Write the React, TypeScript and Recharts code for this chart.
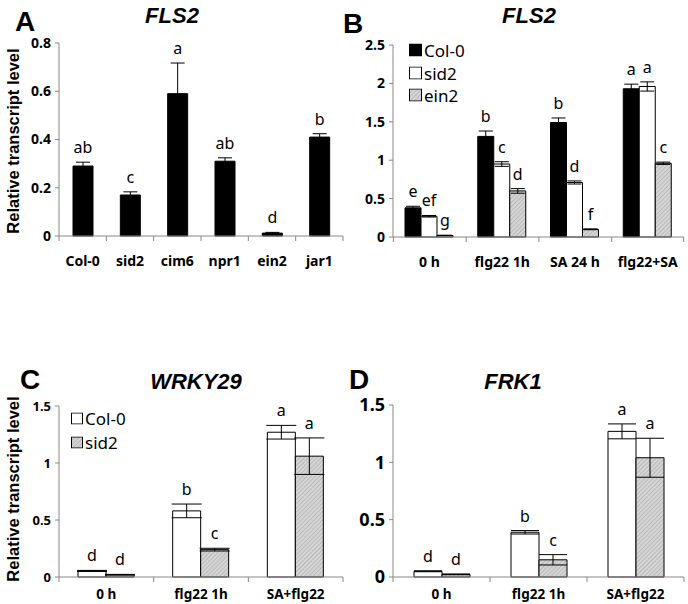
import React from 'react';
import { BarChart, Bar, XAxis, YAxis, ErrorBar, LabelList } from 'recharts';

// panel A - FLS2 in mutants
const mutants = ['Col-0', 'sid2', 'cim6', 'npr1', 'ein2', 'jar1'];
const flsA = [0.29, 0.17, 0.59, 0.31, 0.012, 0.41];
const flsAErr = [0.016, 0.013, 0.127, 0.014, 0.003, 0.014];
const flsALetters = ['ab', 'c', 'a', 'ab', 'd', 'b'];
const ticksA = [0, 0.2, 0.4, 0.6, 0.8];

// panel B - FLS2 treatments
const treatB = ['0 h', 'flg22  1h', 'SA  24 h', 'flg22+SA'];
const col0B = [0.38, 1.31, 1.49, 1.93];
const col0BErr = [0.02, 0.07, 0.06, 0.06];
const col0BLetters = ['e', 'b', 'b', 'a'];
const sid2B = [0.27, 0.95, 0.71, 1.96];
const sid2BErr = [0.01, 0.03, 0.02, 0.06];
const sid2BLetters = ['ef', 'c', 'd', 'a'];
const ein2B = [0.02, 0.6, 0.1, 0.96];
const ein2BErr = [0.003, 0.03, 0.005, 0.015];
const ein2BLetters = ['g', 'd', 'f', 'c'];
const ticksB = [0, 0.5, 1, 1.5, 2, 2.5];

// panels C, D
const treatCD = ['0 h', 'flg22 1h', 'SA+flg22'];
const col0C = [0.053, 0.58, 1.27];
const col0CErr = [0.005, 0.06, 0.06];
const sid2C = [0.02, 0.24, 1.06];
const sid2CErr = [0.003, 0.012, 0.16];
const col0D = [0.05, 0.39, 1.27];
const col0DErr = [0.004, 0.015, 0.065];
const sid2D = [0.023, 0.15, 1.04];
const sid2DErr = [0.003, 0.045, 0.17];
const col0CDLetters = ['d', 'b', 'a'];
const sid2CDLetters = ['d', 'c', 'a'];
const ticksCD = [0, 0.5, 1, 1.5];

const AXIS = '#888888';
const SANS = '"Noto Sans", sans-serif';
const ARIAL = '"Liberation Sans", Arial, sans-serif';

const hatchDefs = (id: string) => (
  <defs>
    <pattern id={id} width="3" height="3" patternUnits="userSpaceOnUse" patternTransform="rotate(45)">
      <rect width="3" height="3" fill="#d6d6d6" />
      <line x1="0" y1="0" x2="0" y2="3" stroke="#9a9a9a" strokeWidth="1" />
    </pattern>
  </defs>
);

const letterLabel = (letters: string[], vals: number[], errs: number[]) => (p: any) => {
  const vb = p.viewBox || p;
  const x = vb.x ?? p.x;
  const y = vb.y ?? p.y;
  const w = vb.width ?? p.width;
  const h = Math.abs(vb.height ?? p.height);
  const i = p.index;
  const perUnit = vals[i] > 0 ? h / vals[i] : 0;
  const top = y - errs[i] * perUnit;
  return (
    <text x={x + w / 2} y={top - 9} textAnchor="middle" fontSize={16} fontFamily={SANS} fill="#000">
      {letters[i]}
    </text>
  );
};

const catTick = (n: number, plotW: number, fontSize: number, dy: number) => (p: any) => {
  const { x, y, payload, index } = p;
  const bw = plotW / n;
  return (
    <g>
      <line x1={x - bw / 2} x2={x - bw / 2} y1={y} y2={y + 5} stroke={AXIS} />
      {index === n - 1 && <line x1={x + bw / 2} x2={x + bw / 2} y1={y} y2={y + 5} stroke={AXIS} />}
      <text x={x} y={y + dy} textAnchor="middle" fontSize={fontSize} fontWeight="bold" fontFamily={SANS} fill="#000">
        {payload.value}
      </text>
    </g>
  );
};

const Txt = ({ x, y, size, children, italic, font = ARIAL }: any) => (
  <div
    style={{
      position: 'absolute', left: x, top: y, transform: 'translate(-50%, -50%)', whiteSpace: 'nowrap',
      fontFamily: font, fontSize: size, fontWeight: 'bold', fontStyle: italic ? 'italic' : 'normal', lineHeight: 1,
    }}
  >
    {children}
  </div>
);

const YTitle = ({ x, y }: any) => (
  <div
    style={{
      position: 'absolute', left: x, top: y, transform: 'translate(-50%, -50%) rotate(-90deg)', whiteSpace: 'nowrap',
      fontFamily: ARIAL, fontSize: 16.5, fontWeight: 'bold', lineHeight: 1,
    }}
  >
    Relative transcript level
  </div>
);

const LegendRow = ({ x, y, size, fill, label, fontSize }: any) => (
  <div style={{ position: 'absolute', left: x, top: y, transform: 'translateY(-50%)', display: 'flex', alignItems: 'center', fontFamily: SANS, fontSize, lineHeight: 1 }}>
    <svg width={size + 1} height={size + 1} style={{ marginRight: 2 }}>
      <rect x={0.5} y={0.5} width={size} height={size} fill={fill} stroke="#000" />
    </svg>
    <span>{label}</span>
  </div>
);

const yAxisProps = (ticks: number[], w: number, fs: number) => ({
  width: w,
  domain: [0, ticks[ticks.length - 1]] as [number, number],
  ticks,
  interval: 0 as const,
  axisLine: { stroke: AXIS },
  tickLine: { stroke: AXIS },
  tickSize: 4,
  tickMargin: 4,
  tick: { fill: '#000', fontSize: fs, fontWeight: 'bold', fontFamily: SANS },
});

export default function App() {
  const dataA = mutants.map((c, i) => ({ c, v: flsA[i], e: flsAErr[i] }));
  const dataB = treatB.map((c, i) => ({
    c, col0: col0B[i], col0e: col0BErr[i], sid2: sid2B[i], sid2e: sid2BErr[i], ein2: ein2B[i], ein2e: ein2BErr[i],
  }));
  const dataC = treatCD.map((c, i) => ({ c, col0: col0C[i], col0e: col0CErr[i], sid2: sid2C[i], sid2e: sid2CErr[i] }));
  const dataD = treatCD.map((c, i) => ({ c, col0: col0D[i], col0e: col0DErr[i], sid2: sid2D[i], sid2e: sid2DErr[i] }));

  return (
    <div style={{ position: 'absolute', left: 0, top: 0, width: 688, height: 604, background: '#fff', overflow: 'hidden' }}>
      {/* A */}
      <div style={{ position: 'absolute', left: 0, top: 0 }}>
        <BarChart width={344} height={290} data={dataA} margin={{ top: 43, right: 1, left: 0, bottom: 14 }}>
          <XAxis dataKey="c" height={40} axisLine={{ stroke: AXIS }} tickLine={false} tickSize={0} tickMargin={0} interval={0}
            tick={catTick(mutants.length, 284, 14, 30)} />
          <YAxis {...yAxisProps(ticksA, 59, 14)} />
          <Bar dataKey="v" fill="#000" stroke="#000" barSize={20} isAnimationActive={false}>
            <ErrorBar dataKey="e" width={7} stroke="#000" strokeWidth={1} />
            <LabelList dataKey="v" content={letterLabel(flsALetters, flsA, flsAErr)} />
          </Bar>
        </BarChart>
      </div>

      {/* B */}
      <div style={{ position: 'absolute', left: 344, top: 0 }}>
        <BarChart width={344} height={290} data={dataB} barGap={0} margin={{ top: 45, right: 4, left: 0, bottom: 13 }}>
          {hatchDefs('hatchB')}
          <XAxis dataKey="c" height={40} axisLine={{ stroke: AXIS }} tickLine={false} tickSize={0} tickMargin={0} interval={0}
            tick={catTick(treatB.length, 288, 14, 30)} />
          <YAxis {...yAxisProps(ticksB, 49, 14)} />
          <Bar dataKey="col0" fill="#000" stroke="#000" barSize={16} isAnimationActive={false}>
            <ErrorBar dataKey="col0e" width={7} stroke="#000" strokeWidth={1} />
            <LabelList dataKey="col0" content={letterLabel(col0BLetters, col0B, col0BErr)} />
          </Bar>
          <Bar dataKey="sid2" fill="#fff" stroke="#000" barSize={16} isAnimationActive={false}>
            <ErrorBar dataKey="sid2e" width={7} stroke="#000" strokeWidth={1} />
            <LabelList dataKey="sid2" content={letterLabel(sid2BLetters, sid2B, sid2BErr)} />
          </Bar>
          <Bar dataKey="ein2" fill="url(#hatchB)" stroke="#000" barSize={16} isAnimationActive={false}>
            <ErrorBar dataKey="ein2e" width={7} stroke="#000" strokeWidth={1} />
            <LabelList dataKey="ein2" content={letterLabel(ein2BLetters, ein2B, ein2BErr)} />
          </Bar>
        </BarChart>
      </div>

      {/* C */}
      <div style={{ position: 'absolute', left: 0, top: 320 }}>
        <BarChart width={344} height={284} data={dataC} barGap={0} margin={{ top: 86, right: 1, left: 0, bottom: 0 }}>
          {hatchDefs('hatchC')}
          <XAxis dataKey="c" height={27} axisLine={{ stroke: AXIS }} tickLine={false} tickSize={0} tickMargin={0} interval={0}
            tick={catTick(treatCD.length, 284, 13.5, 22)} />
          <YAxis {...yAxisProps(ticksCD, 59, 13)} />
          <Bar dataKey="col0" fill="#fff" stroke="#000" barSize={28} isAnimationActive={false}>
            <ErrorBar dataKey="col0e" width={15} stroke="#000" strokeWidth={1} />
            <LabelList dataKey="col0" content={letterLabel(col0CDLetters, col0C, col0CErr)} />
          </Bar>
          <Bar dataKey="sid2" fill="url(#hatchC)" stroke="#000" barSize={28} isAnimationActive={false}>
            <ErrorBar dataKey="sid2e" width={15} stroke="#000" strokeWidth={1} />
            <LabelList dataKey="sid2" content={letterLabel(sid2CDLetters, sid2C, sid2CErr)} />
          </Bar>
        </BarChart>
      </div>

      {/* D */}
      <div style={{ position: 'absolute', left: 344, top: 320 }}>
        <BarChart width={344} height={284} data={dataD} barGap={0} margin={{ top: 85, right: 4, left: 0, bottom: 0 }}>
          {hatchDefs('hatchD')}
          <XAxis dataKey="c" height={27} axisLine={{ stroke: AXIS }} tickLine={false} tickSize={0} tickMargin={0} interval={0}
            tick={catTick(treatCD.length, 291, 13.5, 22)} />
          <YAxis {...yAxisProps(ticksCD, 49, 18)} />
          <Bar dataKey="col0" fill="#fff" stroke="#000" barSize={28} isAnimationActive={false}>
            <ErrorBar dataKey="col0e" width={14} stroke="#000" strokeWidth={1} />
            <LabelList dataKey="col0" content={letterLabel(col0CDLetters, col0D, col0DErr)} />
          </Bar>
          <Bar dataKey="sid2" fill="url(#hatchD)" stroke="#000" barSize={28} isAnimationActive={false}>
            <ErrorBar dataKey="sid2e" width={14} stroke="#000" strokeWidth={1} />
            <LabelList dataKey="sid2" content={letterLabel(sid2CDLetters, sid2D, sid2DErr)} />
          </Bar>
        </BarChart>
      </div>

      {/* titles and panel letters */}
      <Txt x={25} y={22} size={28}>A</Txt>
      <Txt x={172} y={16} size={22} italic>FLS2</Txt>
      <Txt x={353} y={24} size={28}>B</Txt>
      <Txt x={529} y={16} size={22} italic>FLS2</Txt>
      <Txt x={30} y={380} size={28}>C</Txt>
      <Txt x={196} y={382} size={22} italic>WRKY29</Txt>
      <Txt x={359} y={380} size={28}>D</Txt>
      <Txt x={513} y={382} size={22} italic>FRK1</Txt>

      <YTitle x={13} y={141} />
      <YTitle x={13} y={489} />

      {/* legends */}
      <LegendRow x={409} y={50} size={12} fill="#000" label="Col-0" fontSize={17} />
      <LegendRow x={409} y={73} size={12} fill="#fff" label="sid2" fontSize={17} />
      <LegendRow x={409} y={95} size={12} fill="url(#hatchB)" label="ein2" fontSize={17} />
      <LegendRow x={71} y={418} size={11} fill="#fff" label="Col-0" fontSize={17} />
      <LegendRow x={71} y={442} size={11} fill="url(#hatchC)" label="sid2" fontSize={17} />
    </div>
  );
}
